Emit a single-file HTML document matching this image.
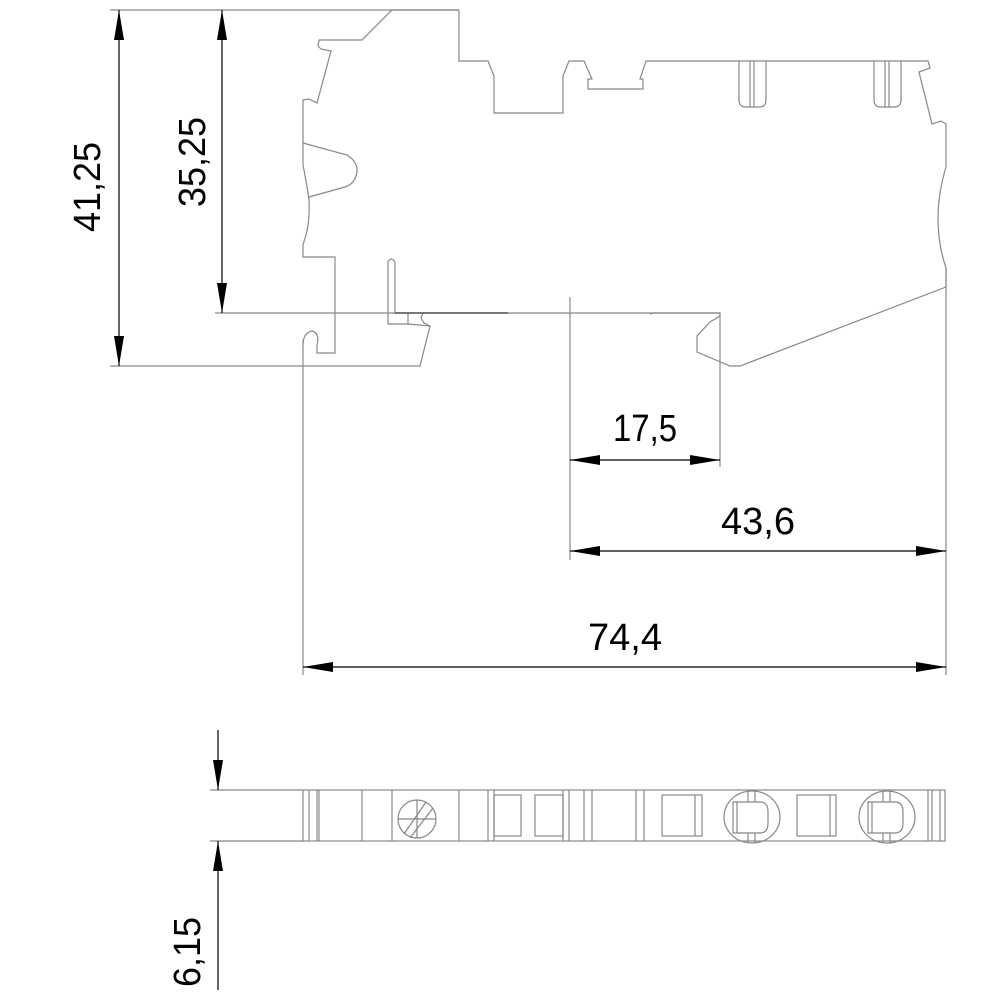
<!DOCTYPE html>
<html><head><style>html,body{margin:0;padding:0;background:#fff}svg{display:block}</style></head>
<body>
<svg width="1000" height="1000" viewBox="0 0 1000 1000" xmlns="http://www.w3.org/2000/svg">
<defs>
<marker id="a" viewBox="0 0 30 10" refX="30" refY="5" markerWidth="30" markerHeight="10" markerUnits="userSpaceOnUse" orient="auto"><path d="M0,0 L30,5 L0,10 Z" fill="#000"/></marker>
</defs>
<g fill="none" stroke="#888" stroke-width="1.2">
<!-- extension lines -->
<line x1="110" y1="10" x2="459" y2="10"/>
<line x1="110" y1="366" x2="303" y2="366"/>
<line x1="215" y1="313" x2="720" y2="313"/>
<line x1="303" y1="340" x2="303" y2="675"/>
<line x1="570" y1="297" x2="570" y2="560"/>
<line x1="720" y1="313" x2="720" y2="467"/>
<line x1="946" y1="268" x2="946" y2="675"/>
<!-- top outline -->
<path d="M459,10 L392,10 L362,40 L319,40 L318,46 L321,49 L331,51 L317,103 L309,99 L303,100 L303,165 Q307,185 309,200 Q310,220 306,235 L303,245 L303,257 L335,257 L335,353 L317,353 L317,345 Q320,333 312,331 Q303,333 303,345"/>
<path d="M303,143 L347,155 Q358,162 357,172 Q355,184 345,187 L309,197"/>
<path d="M459,10 L459,61 L488,61 L494,76 L494,113 L563,113 L563,76 L569,61 L584,61 L592,79 L588,79 L588,89 L643,89 L643,79 L640,79 L646,61 L928,61 L930,68 L919,72 L932,124 L941,121 L946,124 L946,167 Q930,220 946,268 L946,287 L740,366 L730,366 L697,352 L697,336 L710,322 L720,316 L720,313 L653,313 L650,314"/>
<path d="M739,61 L739,100 Q739,107 746,107 L759,107 Q766,107 766,100 L766,61 M750,61 L750,107 M754,61 L754,107"/>
<path d="M874,61 L874,100 Q874,107 881,107 L894,107 Q901,107 901,100 L901,61 M885,61 L885,107 M889,61 L889,107"/>
<path d="M395,313 L395,262 Q391,256 388,262 L388,324 L408,324 L430,326 L420,366 L303,366"/>
<path d="M408,324 L408,313 M423,313 L421,318 L424,323 L430,326"/>
<line x1="395" y1="313" x2="508" y2="313" stroke="#555" stroke-width="1.6"/>
<!-- bottom view -->
<rect x="303" y="790" width="642" height="51"/>
<line x1="210" y1="790" x2="303" y2="790"/>
<line x1="210" y1="841" x2="303" y2="841"/>
<path d="M309,790V841M317,790V841M319,790V841M362,790V841M392,790V841M459,790V841M488,790V841M494,790V841M563,790V841M569,790V841M584,790V841M592,790V841M636,790V841M644,790V841M928,790V841M932,790V841M940,790V841"/>
<ellipse cx="417" cy="819" rx="19" ry="19"/>
<path d="M398,819H436M417,800V838M404,834L426,802M410,838L433,808"/>
<rect x="494" y="795" width="27" height="41"/><rect x="535" y="795" width="28" height="41"/>
<rect x="662" y="795" width="40" height="41"/><line x1="695" y1="795" x2="695" y2="836"/>
<rect x="797" y="795" width="39" height="41"/><line x1="830" y1="795" x2="830" y2="836"/>
<ellipse cx="752" cy="817" rx="28" ry="26"/>
<path d="M733,802H760Q768,802 768,812V823Q768,833 760,833H733Z M737,802V833 M748,791V802M755,791V802M748,833V843M755,833V843"/>
<ellipse cx="887" cy="817" rx="28" ry="26"/>
<path d="M868,802H895Q903,802 903,812V823Q903,833 895,833H868Z M872,802V833 M883,791V802M890,791V802M883,833V843M890,833V843"/>
</g>
<!-- dimension lines -->
<g stroke="#000" stroke-width="1.2" fill="none">
<line x1="119" y1="188" x2="119" y2="10" marker-end="url(#a)"/>
<line x1="119" y1="188" x2="119" y2="366" marker-end="url(#a)"/>
<line x1="222" y1="160" x2="222" y2="10" marker-end="url(#a)"/>
<line x1="222" y1="160" x2="222" y2="313" marker-end="url(#a)"/>
<line x1="645" y1="460" x2="570" y2="460" marker-end="url(#a)"/>
<line x1="645" y1="460" x2="720" y2="460" marker-end="url(#a)"/>
<line x1="758" y1="551" x2="570" y2="551" marker-end="url(#a)"/>
<line x1="758" y1="551" x2="946" y2="551" marker-end="url(#a)"/>
<line x1="625" y1="667" x2="303" y2="667" marker-end="url(#a)"/>
<line x1="625" y1="667" x2="946" y2="667" marker-end="url(#a)"/>
<line x1="218" y1="730" x2="218" y2="790" marker-end="url(#a)"/>
<line x1="218" y1="990" x2="218" y2="841" marker-end="url(#a)"/>
</g>
<g font-family="Liberation Sans, sans-serif" font-size="38" fill="#000">
<text x="645" y="441" text-anchor="middle" textLength="64" lengthAdjust="spacingAndGlyphs">17,5</text>
<text x="758" y="534" text-anchor="middle" textLength="74" lengthAdjust="spacingAndGlyphs">43,6</text>
<text x="625" y="650" text-anchor="middle" textLength="74" lengthAdjust="spacingAndGlyphs">74,4</text>
<text transform="translate(100,187) rotate(-90)" text-anchor="middle" textLength="90" lengthAdjust="spacingAndGlyphs">41,25</text>
<text transform="translate(205,162) rotate(-90)" text-anchor="middle" textLength="90" lengthAdjust="spacingAndGlyphs">35,25</text>
<text transform="translate(200,952) rotate(-90)" text-anchor="middle" textLength="70" lengthAdjust="spacingAndGlyphs">6,15</text>
</g>
</svg>
</body></html>
